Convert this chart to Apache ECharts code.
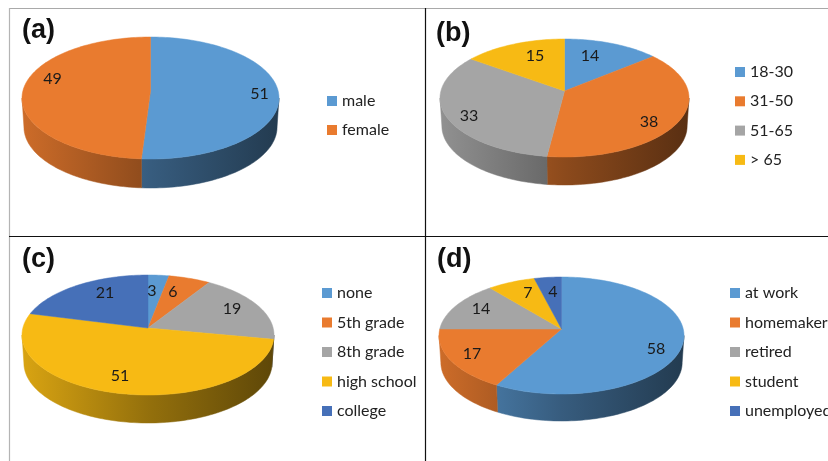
<!DOCTYPE html>
<html>
<head>
<meta charset="utf-8">
<style>html,body{margin:0;padding:0;background:#fff}#chart{width:828px;height:461px}</style>
<script src="https://cdn.jsdelivr.net/npm/echarts@6/dist/echarts.min.js"></script>
</head>
<body>
<div id="chart"></div>
<script>
// Survey composition by sex, age, schooling and occupation (percent).
const sexLabels = ['male', 'female'];
const sexValues = [51, 49];
const ageLabels = ['18-30', '31-50', '51-65', '> 65'];
const ageValues = [14, 38, 33, 15];
const schoolLabels = ['none', '5th grade', '8th grade', 'high school', 'college'];
const schoolValues = [3, 6, 19, 51, 21];
const jobLabels = ['at work', 'homemaker', 'retired', 'student', 'unemployed'];
const jobValues = [58, 17, 14, 7, 4];

const sliceColors = ['#5B9AD2', '#E97B2F', '#A5A5A5', '#F7BA14', '#4670B8'];

// Geometry of each tilted disc: hub position, far and near rim rows, half width and wall height.
const panels = [
  { tag: '(a)', names: sexLabels, values: sexValues, hubX: 150.5, hubY: 91, far: 37, near: 159, halfW: 128.5, wall: 29,
    tagAt: [22, 17], legendAt: [327, 92], pitch: 29,
    labelOffsets: [[109, 3], [-98, -12]] },
  { tag: '(b)', names: ageLabels, values: ageValues, hubX: 564.5, hubY: 91, far: 39, near: 157, halfW: 124.5, wall: 28,
    tagAt: [436, 20], legendAt: [735, 63], pitch: 29.3,
    labelOffsets: [[25.5, -35], [84.5, 31], [-95.5, 25], [-29.5, -35]] },
  { tag: '(c)', names: schoolLabels, values: schoolValues, hubX: 148, hubY: 328, far: 275, near: 395, halfW: 126, wall: 28,
    tagAt: [22, 246], legendAt: [322, 284], pitch: 29.5,
    labelOffsets: [[4, -37], [25, -36], [84, -19], [-28, 48], [-43, -35]] },
  { tag: '(d)', names: jobLabels, values: jobValues, hubX: 561.5, hubY: 329, far: 277, near: 394, halfW: 122.5, wall: 27,
    tagAt: [437, 246], legendAt: [730, 284], pitch: 29.5,
    labelOffsets: [[94.5, 20], [-89.5, 25], [-80.5, -20], [-33.5, -36], [-8.5, -37]] }
];

// Perspective projection of a disc point at angle t (clockwise from the far side).
function projector(p) {
  const a = p.hubY - p.far, b = p.near - p.hubY;
  const depth = 2 * a * b / (a + b);
  const k = (b - a) / (a + b);
  const width = p.halfW * Math.sqrt(1 - k * k);
  return {
    k,
    at(t) {
      const u = Math.sin(t), v = Math.cos(t), w = 1 + k * v;
      return [p.hubX + width * u / w, p.hubY - depth * v / w];
    }
  };
}

function arcPoints(proj, from, to) {
  const steps = Math.max(2, Math.ceil((to - from) / (Math.PI / 120)));
  const pts = [];
  for (let i = 0; i <= steps; i++) pts.push(proj.at(from + (to - from) * i / steps));
  return pts;
}

function shade(hex, f) {
  const n = parseInt(hex.slice(1), 16);
  const c = [n >> 16, (n >> 8) & 255, n & 255].map(x => Math.round(x * f));
  return 'rgb(' + c.join(',') + ')';
}

function wallFill(p, color) {
  return new echarts.graphic.LinearGradient(p.hubX - p.halfW, 0, p.hubX + p.halfW, 0, [
    { offset: 0, color: shade(color, 0.88) },
    { offset: 0.5, color: shade(color, 0.6) },
    { offset: 1, color: shade(color, 0.38) }
  ], true);
}

function sliceRenderer(p, index, color) {
  const total = p.values.reduce((s, x) => s + x, 0);
  const before = p.values.slice(0, index).reduce((s, x) => s + x, 0);
  const proj = projector(p);
  return function (params, api) {
    const value = api.value(0);
    const from = before / total * 2 * Math.PI;
    const to = (before + value) / total * 2 * Math.PI;
    const children = [];

    // The wall shows only between the two widest points of the front rim.
    const edge = Math.acos(-proj.k);
    const wallFrom = Math.max(from, edge);
    const wallTo = Math.min(to, 2 * Math.PI - edge);
    if (wallTo > wallFrom) {
      const rim = arcPoints(proj, wallFrom, wallTo);
      const lower = rim.map(q => [p.hubX + (q[0] - p.hubX) * 0.985, q[1] + p.wall]).reverse();
      const fill = wallFill(p, color);
      children.push({
        type: 'polygon', z2: 1,
        shape: { points: rim.concat(lower) },
        style: { fill, stroke: fill, lineWidth: 0.5 }
      });
    }

    const top = [[p.hubX, p.hubY]].concat(arcPoints(proj, from, to));
    children.push({
      type: 'polygon', z2: 2,
      shape: { points: top },
      style: { fill: color, stroke: color, lineWidth: 0.5 }
    });

    const off = p.labelOffsets[index];
    children.push({
      type: 'text', z2: 3,
      style: {
        text: String(value), x: p.hubX + off[0], y: p.hubY + off[1],
        align: 'center', verticalAlign: 'middle',
        font: '16px Lato', fill: '#1a1a1a'
      }
    });
    return { type: 'group', children };
  };
}

const series = [];
panels.forEach(p => {
  p.names.forEach((name, i) => {
    const color = sliceColors[i];
    series.push({
      type: 'custom', name, coordinateSystem: 'none', silent: true,
      itemStyle: { color },
      data: [[p.values[i]]],
      renderItem: sliceRenderer(p, i, color)
    });
  });
});

const rule = (x1, y1, x2, y2, stroke, lineWidth) => ({
  type: 'line', shape: { x1, y1, x2, y2 }, style: { stroke, lineWidth }, z: 0
});

const chart = echarts.init(document.getElementById('chart'), null, { renderer: 'canvas' });
chart.setOption({
  animation: false,
  backgroundColor: '#fff',
  title: panels.map(p => ({
    text: p.tag, left: p.tagAt[0], top: p.tagAt[1], padding: 0,
    textStyle: { fontFamily: 'Liberation Sans', fontWeight: 'bold', fontSize: 27, color: '#111' }
  })),
  legend: panels.map(p => ({
    data: p.names, orient: 'vertical', left: p.legendAt[0], top: p.legendAt[1],
    padding: 0, icon: 'rect', itemWidth: 10, itemHeight: 10,
    itemGap: p.pitch - 18, selectedMode: false,
    textStyle: { fontFamily: 'Lato', fontSize: 16, lineHeight: 18, color: '#222' }
  })),
  graphic: [
    rule(9, 8.5, 828, 8.5, '#a9a9a9', 1.2),
    rule(9.5, 8, 9.5, 461, '#b4b4b4', 1.2),
    rule(9, 236.5, 828, 236.5, '#111', 1.2),
    rule(425.5, 8, 425.5, 461, '#111', 1.2)
  ],
  series
});
</script>
</body>
</html>
